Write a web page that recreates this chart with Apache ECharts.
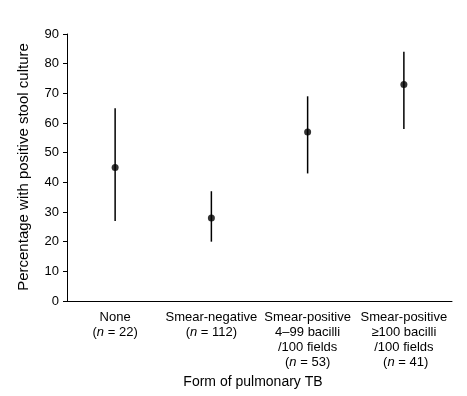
<!DOCTYPE html>
<html>
<head>
<meta charset="utf-8">
<script src="https://cdn.jsdelivr.net/npm/echarts@6/dist/echarts.min.js"></script>
<style>html,body{margin:0;padding:0;background:#fff}#c{width:467px;height:396px}</style>
</head>
<body>
<div id="c"></div>
<script>
var categories = [
  ['None', '({i|n} = 22)'],
  ['Smear-negative', '({i|n} = 112)'],
  ['Smear-positive', '4\u201399 bacilli', '/100 fields', '({i|n} = 53)'],
  ['Smear-positive', '\u2265100 bacilli', '/100 fields', ' ({i|n} = 41)']
];
var means = [45, 28, 57, 73];
var lower = [27, 20, 43, 58];
var upper = [65, 37, 69, 84];
var yTicks = [0, 90, 10];
var yTitle = 'Percentage with positive stool culture';
var xTitle = 'Form of pulmonary TB';

var catNames = categories.map(function (c) { return c.join('\n'); });
var font = 'Liberation Sans, Arial, sans-serif';

var chart = echarts.init(document.getElementById('c'));
chart.setOption({
  animation: false,
  backgroundColor: '#fff',
  grid: { left: 67, right: 15, top: 34, bottom: 95 },
  xAxis: {
    type: 'category',
    data: catNames,
    boundaryGap: true,
    axisLine: { lineStyle: { color: '#000', width: 1 } },
    axisTick: { length: 4, lineStyle: { color: '#000' } },
    axisLabel: {
      interval: 0, margin: 9, color: '#000', fontFamily: font, fontSize: 13, lineHeight: 15,
      rich: { i: { fontStyle: 'italic', fontFamily: font, fontSize: 13, color: '#000', lineHeight: 15 } }
    },
    splitLine: { show: false }
  },
  yAxis: {
    type: 'value',
    min: yTicks[0], max: yTicks[1], interval: yTicks[2],
    axisLine: { show: true, lineStyle: { color: '#000', width: 1 } },
    axisTick: { show: true, length: 4, lineStyle: { color: '#000' } },
    axisLabel: { margin: 8, color: '#000', fontFamily: font, fontSize: 13 },
    splitLine: { show: false }
  },
  graphic: [
    { type: 'text', x: 24, y: 167, rotation: Math.PI / 2,
      style: { text: yTitle, fill: '#000', font: '15px ' + font, textAlign: 'center', textVerticalAlign: 'middle' } },
    { type: 'text', x: 253, y: 382,
      style: { text: xTitle, fill: '#000', font: '14px ' + font, textAlign: 'center', textVerticalAlign: 'middle' } }
  ],
  series: [
    {
      type: 'custom',
      data: catNames.map(function (c, i) { return [i, lower[i], upper[i]]; }),
      renderItem: function (params, api) {
        var lo = api.coord([api.value(0), api.value(1)]);
        var hi = api.coord([api.value(0), api.value(2)]);
        return { type: 'line', shape: { x1: lo[0], y1: lo[1], x2: hi[0], y2: hi[1] },
                 style: { stroke: '#000', lineWidth: 1.5 } };
      },
      z: 1
    },
    {
      type: 'scatter',
      data: catNames.map(function (c, i) { return [i, means[i]]; }),
      symbol: 'circle', symbolSize: 7,
      itemStyle: { color: '#000' },
      z: 2
    }
  ]
});
</script>
</body>
</html>
